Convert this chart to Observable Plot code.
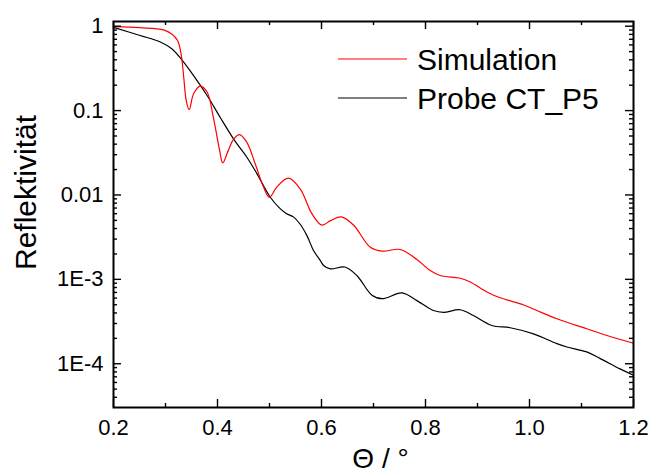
<!DOCTYPE html>
<html><head><meta charset="utf-8">
<script src="https://cdn.jsdelivr.net/npm/d3@7"></script>
<script src="https://cdn.jsdelivr.net/npm/@observablehq/plot@0.6"></script>
<style>
html,body{margin:0;padding:0;background:#fff;}
#wrap{position:relative;width:650px;height:475px;overflow:hidden;font-family:"Liberation Sans",Arial,sans-serif;}
#legend{position:absolute;left:0;top:0;pointer-events:none;}
</style></head><body><div id="wrap"></div>
<script>
// Simulation (red)
const simTheta = [0.200,0.251,0.296,0.312,0.323,0.330,0.335,0.340,0.3456,0.354,0.3667,0.380,0.392,0.404,0.410,0.421,0.431,0.4423,0.4565,0.4725,0.4885,0.500,0.514,0.5365,0.559,0.5815,0.6008,0.618,0.638,0.6615,0.694,0.717,0.7515,0.7835,0.809,0.828,0.867,0.886,0.918,0.9436,0.988,1.014,1.0527,1.110,1.149,1.200];
const simR = [0.99,0.96,0.906,0.81,0.68,0.47,0.25,0.13,0.103,0.158,0.195,0.166,0.083,0.034,0.024,0.034,0.046,0.052,0.042,0.0234,0.0124,0.0094,0.0124,0.0158,0.0118,0.006,0.0044,0.0050,0.0055,0.0044,0.0024,0.00216,0.00226,0.00172,0.00127,0.00111,0.00103,0.00093,0.00071,0.000605,0.0005,0.000427,0.000341,0.00026,0.000216,0.000175];
// Probe CT_P5 (black)
const probeTheta = [0.200,0.251,0.290,0.312,0.330,0.354,0.380,0.405,0.431,0.4565,0.476,0.5015,0.5205,0.533,0.546,0.559,0.572,0.5846,0.5975,0.604,0.617,0.645,0.668,0.697,0.717,0.7546,0.7835,0.8154,0.8346,0.8667,0.892,0.9277,0.963,1.0077,1.0527,1.072,1.110,1.136,1.174,1.200];
const probeR = [0.97,0.776,0.65,0.54,0.41,0.26,0.151,0.0835,0.046,0.028,0.0178,0.0094,0.0069,0.006,0.0055,0.0045,0.0033,0.0022,0.00168,0.00146,0.00133,0.0014,0.00111,0.00065,0.00059,0.00069,0.00056,0.000427,0.000407,0.000436,0.000373,0.000284,0.000267,0.000226,0.000173,0.000158,0.000138,0.000115,0.000087,0.000073];

const xTicks = [0.2,0.4,0.6,0.8,1.0,1.2];
const xTickLabels = ["0.2","0.4","0.6","0.8","1.0","1.2"];
const xMinorTicks = [0.3,0.5,0.7,0.9,1.1];
const yTicks = [1,0.1,0.01,1e-3,1e-4];
const yTickLabels = ["1","0.1","0.01","1E-3","1E-4"];
const yMinorMultipliers = [2,3,4,5,6,7,8,9];
const seriesNames = ["Simulation","Probe CT_P5"];
const seriesColors = ["#ff0000","#000000"];
const xTitle = "\u0398 / \u00B0";
const yTitle = "Reflektivit\u00E4t";

const W = 650, H = 475;
const mL = 113, mR = 17, mT = 21, mB = 68;
const innerW = W - mL - mR, innerH = H - mT - mB;
const yDomain = [3.03e-5, 1.137];
const yMinor = [];
yTicks.forEach(t => yMinorMultipliers.forEach(m => { const v = t*m; if (v > yDomain[0] && v < 1) yMinor.push(v); }));
yMinor.push(...yMinorMultipliers.map(m => m*1e-5).filter(v => v > yDomain[0]));

const sim = simTheta.map((x,i) => ({x, y: simR[i]}));
const probe = probeTheta.map((x,i) => ({x, y: probeR[i]}));

const majorLen = 8, minorLen = 4, tickW = 1.4;
const font = '"Liberation Sans", Arial, sans-serif';

const chart = Plot.plot({
  width: W, height: H,
  marginLeft: mL, marginRight: mR, marginTop: mT, marginBottom: mB,
  style: {fontFamily: font, fontSize: "22px", background: "white", color: "black", overflow: "visible"},
  x: {domain: [0.2, 1.2]},
  y: {type: "log", domain: yDomain},
  marks: [
    Plot.line(probe, {x: "x", y: "y", stroke: seriesColors[1], strokeWidth: 1.2, curve: "catmull-rom"}),
    Plot.line(sim, {x: "x", y: "y", stroke: seriesColors[0], strokeWidth: 1.2, curve: "catmull-rom"}),
    Plot.ruleX(xTicks, {x: d => d, insetTop: innerH - majorLen, strokeWidth: tickW}),
    Plot.ruleX(xTicks, {x: d => d, insetBottom: innerH - majorLen, strokeWidth: tickW}),
    Plot.ruleX(xMinorTicks, {x: d => d, insetTop: innerH - minorLen, strokeWidth: tickW}),
    Plot.ruleX(xMinorTicks, {x: d => d, insetBottom: innerH - minorLen, strokeWidth: tickW}),
    Plot.ruleY(yTicks, {y: d => d, insetRight: innerW - majorLen, strokeWidth: tickW}),
    Plot.ruleY(yTicks, {y: d => d, insetLeft: innerW - majorLen, strokeWidth: tickW}),
    Plot.ruleY(yMinor, {y: d => d, insetRight: innerW - minorLen, strokeWidth: tickW}),
    Plot.ruleY(yMinor, {y: d => d, insetLeft: innerW - minorLen, strokeWidth: tickW}),
    Plot.frame({stroke: "black", strokeWidth: 2}),
    Plot.axisX({ticks: xTicks, tickSize: 0, tickPadding: 12, fontSize: 22, tickFormat: d => xTickLabels[xTicks.indexOf(d)], label: null}),
    Plot.axisY({ticks: yTicks, tickSize: 0, tickPadding: 10, fontSize: 22, tickFormat: d => yTickLabels[yTicks.indexOf(d)], label: null}),
    Plot.text([yTitle], {text: d => d, frameAnchor: "left", textAnchor: "middle", lineAnchor: "middle", rotate: -90, dx: -87.5, dy: -22, fontSize: 30}),
    Plot.text([xTitle], {text: d => d, frameAnchor: "bottom", textAnchor: "middle", lineAnchor: "middle", dx: 7, dy: 52, fontSize: 28})
  ]
});
const wrap = document.getElementById("wrap");
wrap.appendChild(chart);

// Legend overlay (inside plot area, top right)
const ns = "http://www.w3.org/2000/svg";
const leg = document.createElementNS(ns, "svg");
leg.setAttribute("id", "legend");
leg.setAttribute("width", W); leg.setAttribute("height", H);
const rowsY = [59, 98];
seriesNames.forEach((name, i) => {
  const ln = document.createElementNS(ns, "line");
  ln.setAttribute("x1", 338); ln.setAttribute("x2", 407);
  ln.setAttribute("y1", rowsY[i]); ln.setAttribute("y2", rowsY[i]);
  ln.setAttribute("stroke", seriesColors[i]); ln.setAttribute("stroke-width", 1.2);
  leg.appendChild(ln);
  const tx = document.createElementNS(ns, "text");
  tx.setAttribute("x", 417); tx.setAttribute("y", rowsY[i] + 10.5);
  tx.setAttribute("font-size", 30);
  tx.setAttribute("font-family", font);
  tx.setAttribute("fill", "black");
  tx.textContent = name;
  leg.appendChild(tx);
});
wrap.appendChild(leg);
</script></body></html>
